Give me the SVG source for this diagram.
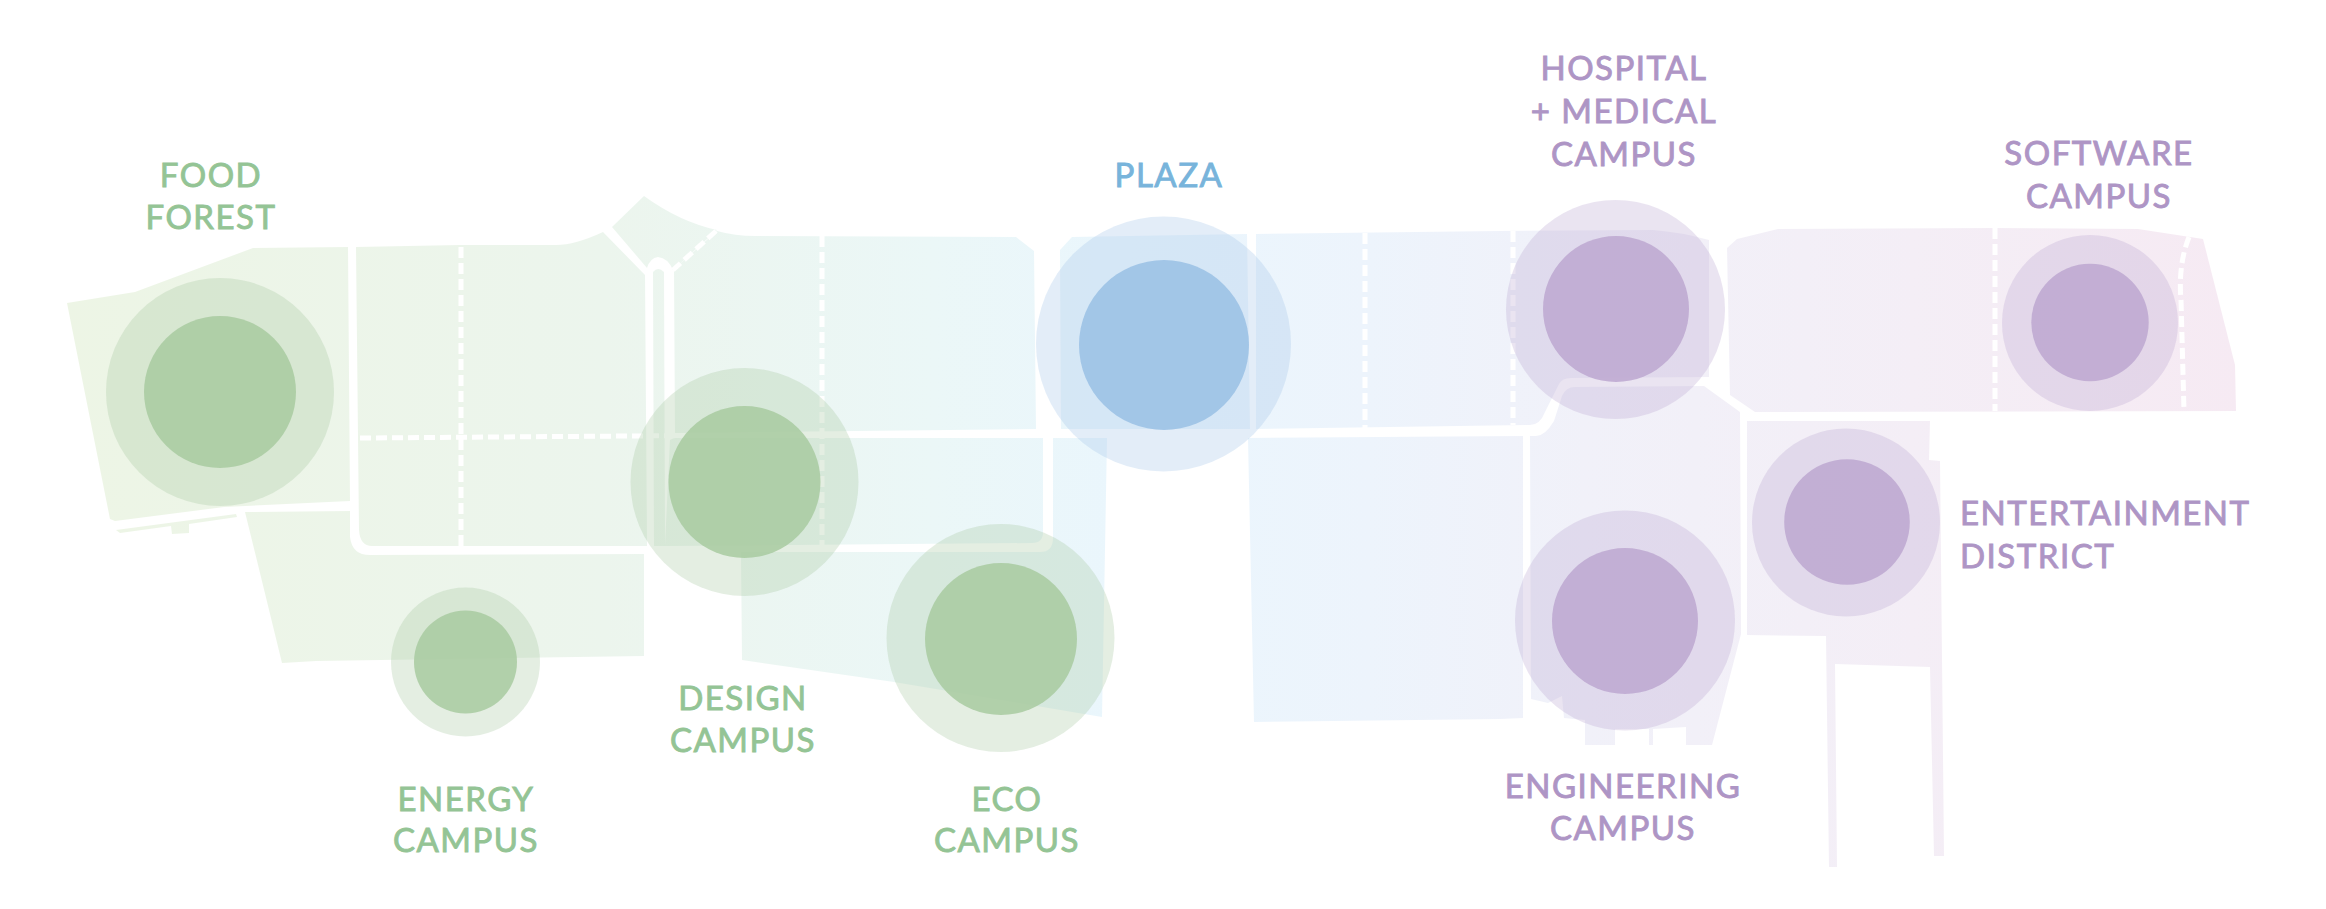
<svg xmlns="http://www.w3.org/2000/svg" width="2326" height="909" viewBox="0 0 2326 909">
<style>
.l{font-family:"Lato","Liberation Sans",sans-serif;font-size:33px;font-weight:400;text-anchor:middle;letter-spacing:1.5px;stroke-width:.9px}
.g{fill:#94C495;stroke:#94C495}.b{fill:#78B4DB;stroke:#78B4DB}.p{fill:#AE95C5;stroke:#AE95C5}
.og{fill:#A5C89E;opacity:.3}.ig{fill:#A8CAA0;opacity:.85}
.ob{fill:#A9C8EA;opacity:.32}.ib{fill:#9CC2E6;opacity:.9}
.op{fill:#BBA5D0;opacity:.3}.ip{fill:#BFAAD1;opacity:.9}
.m{fill:url(#mapGrad)}
.d{fill:none;stroke:#fff;stroke-width:5;stroke-dasharray:11 5}
</style>
<defs>
<linearGradient id="mapGrad" gradientUnits="userSpaceOnUse" x1="60" y1="0" x2="2240" y2="0">
<stop offset="0" stop-color="#EDF5E5"/>
<stop offset=".25" stop-color="#ECF5ED"/>
<stop offset=".4" stop-color="#EBF7F7"/>
<stop offset=".49" stop-color="#EAF6FD"/>
<stop offset=".6" stop-color="#EDF4FC"/>
<stop offset=".7" stop-color="#F1F1F9"/>
<stop offset=".85" stop-color="#F4EEF6"/>
<stop offset="1" stop-color="#F6EAF3"/>
</linearGradient>
</defs>
<g id="map">
<path class="m" d="M67 303 135 292 253 248 348 247 350 501 224 507 115 521 110 519Z"/>
<path class="m" d="M116 530 236 514 237 517 189 524 189 533 172 534 171 526 120 533Z"/>
<path class="m" d="M356 247 460 245 556 245Q575 245 603 232L645 275 647 546 372 546Q360 546 359 530Z"/>
<path class="m" d="M653 272Q658 266 664 272L665 546 654 546Z"/>
<path class="m" d="M612 227 644 196Q680 222 717 230L673 270Q668 258 658 257Q650 258 647 268Z"/>
<path class="m" d="M717 231Q735 236 755 236L1016 237 1034 251 1036 429 675 433 674 269Z"/>
<path class="m" d="M674 438 1043 438 1043 532Q1043 543 1032 543L665 546 670 440Z"/>
<path class="m" d="M245 512 350 511 350 537Q352 555 370 555L644 554 644 656 316 661 282 663 260 573Z"/>
<path class="m" d="M741 552 1040 552Q1053 552 1053 538L1053 438 1107 438 1102 717 894 682 742 660Z"/>
<path class="m" d="M1060 250 1072 237 1247 234 1250 429 1061 429Z"/>
<path class="m" d="M1256 234 1500 231 1653 230Q1680 232 1709 240L1709 377 1571 378Q1562 378 1559 384L1545 412Q1540 425 1530 425L1256 429Z"/>
<path class="m" d="M1248 438 1523 436 1523 718 1500 719 1254 722Z"/>
<path class="m" d="M1530 436 1536 436Q1545 436 1554 421L1562 396Q1566 387 1575 387L1704 386 1740 412 1741 634 1712 745 1686 745 1686 727 1653 729 1653 745 1649 745 1649 729 1615 729 1615 745 1585 745 1585 720 1564 718 1562 696 1548 703 1531 699Z"/>
<path class="m" d="M1727 248 1737 239 1778 229 1993 228 2138 229 2203 239 2235 365 2236 411 1755 412 1730 395Z"/>
<path class="m" d="M1747 421 1930 421 1929 460 1940 461 1944 856 1934 856 1930 667 1835 664 1837 867 1829 867 1826 636 1747 635Z"/>
</g>
<g id="connectors">
<path class="d" d="M461 247V546"/>
<path class="d" d="M360 438 1036 433"/>
<path class="d" d="M716 231 673 270"/>
<path class="d" d="M822 236V546"/>
<path class="d" d="M1365 233V429"/>
<path class="d" d="M1513 231V425"/>
<path class="d" d="M1526 437V700"/>
<path class="d" d="M1744 421V635"/>
<path class="d" d="M1995 228V411"/>
<path class="d" d="M2189 237Q2178 265 2181 300L2184 411"/>
</g>
<g id="food-forest"><circle class="og" cx="220" cy="392" r="114"/><circle class="ig" cx="220" cy="392" r="76"/>
<text class="l g" x="211" y="187">FOOD</text><text class="l g" x="211" y="229">FOREST</text></g>
<g id="energy-campus"><circle class="og" cx="465.500" cy="662" r="74.500"/><circle class="ig" cx="465.500" cy="662" r="51.500"/>
<text class="l g" x="466" y="811">ENERGY</text><text class="l g" x="466" y="852">CAMPUS</text></g>
<g id="design-campus"><circle class="og" cx="744.500" cy="482" r="114"/><circle class="ig" cx="744.500" cy="482" r="76"/>
<text class="l g" x="743" y="710">DESIGN</text><text class="l g" x="743" y="752">CAMPUS</text></g>
<g id="eco-campus"><circle class="og" cx="1000.500" cy="638" r="114"/><circle class="ig" cx="1001" cy="639" r="76"/>
<text class="l g" x="1007" y="811">ECO</text><text class="l g" x="1007" y="852">CAMPUS</text></g>
<g id="plaza"><circle class="ob" cx="1163.500" cy="344" r="127.500"/><circle class="ib" cx="1164" cy="345" r="85"/>
<text class="l b" x="1169" y="187">PLAZA</text></g>
<g id="hospital-medical-campus"><circle class="op" cx="1615.500" cy="309.500" r="109.500"/><circle class="ip" cx="1616" cy="309" r="73"/>
<text class="l p" x="1624" y="80">HOSPITAL</text><text class="l p" x="1624" y="123">+ MEDICAL</text><text class="l p" x="1624" y="166">CAMPUS</text></g>
<g id="software-campus"><circle class="op" cx="2090" cy="323" r="88"/><circle class="ip" cx="2090" cy="322.500" r="58.700"/>
<text class="l p" x="2099" y="165">SOFTWARE</text><text class="l p" x="2099" y="208">CAMPUS</text></g>
<g id="entertainment-district"><circle class="op" cx="1846" cy="522.500" r="94"/><circle class="ip" cx="1847" cy="522" r="62.800"/>
<text class="l p" x="1960" y="525" style="text-anchor:start">ENTERTAINMENT</text><text class="l p" x="1960" y="568" style="text-anchor:start">DISTRICT</text></g>
<g id="engineering-campus"><circle class="op" cx="1625" cy="620.500" r="110"/><circle class="ip" cx="1625" cy="621" r="73"/>
<text class="l p" x="1623" y="798">ENGINEERING</text><text class="l p" x="1623" y="840">CAMPUS</text></g>
</svg>
